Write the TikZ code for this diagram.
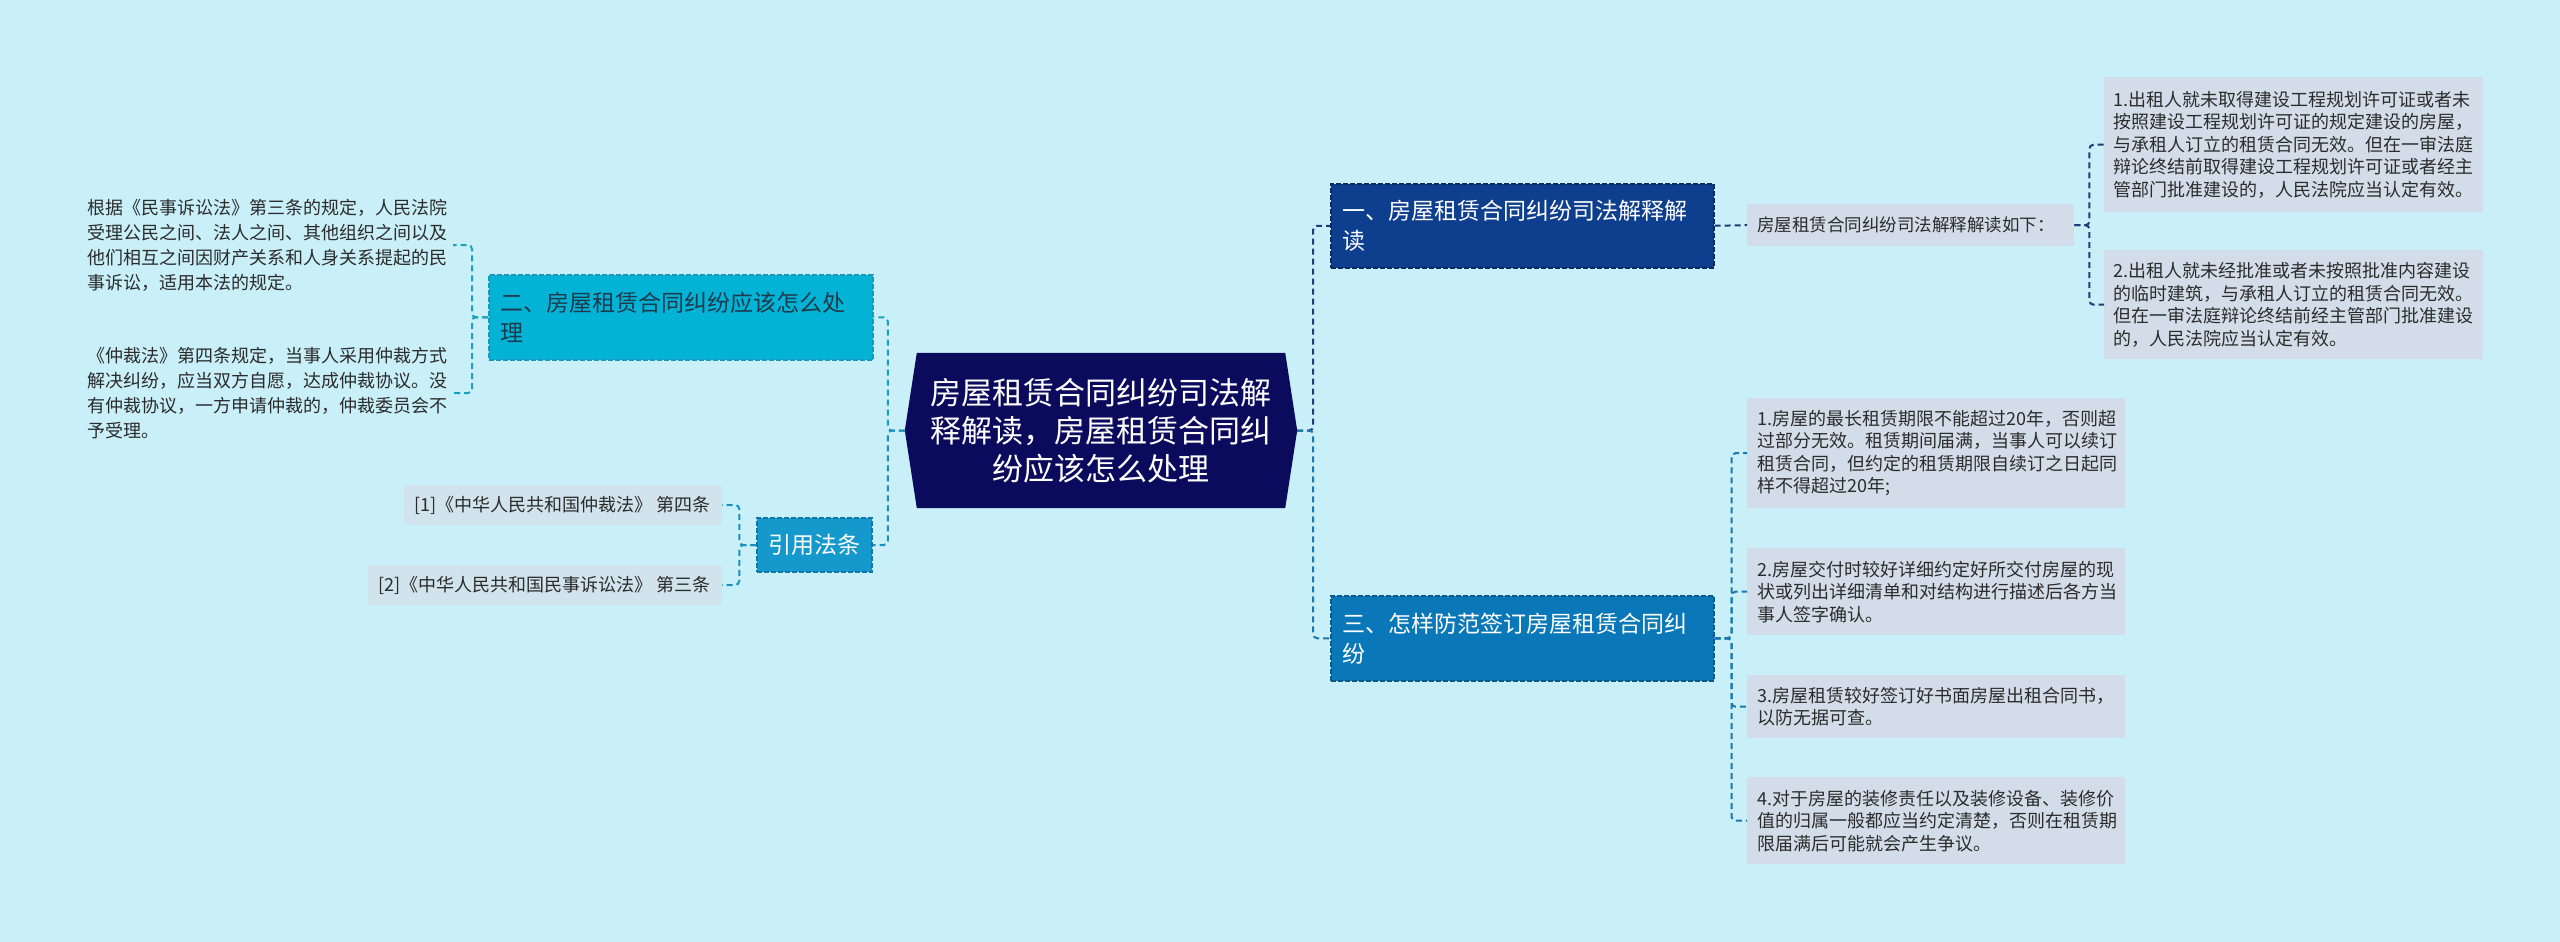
\documentclass[tikz,border=0pt]{standalone}
\usepackage{fontspec}
\setmainfont{Noto Sans CJK SC}
\usetikzlibrary{backgrounds}
\definecolor{bgc}{HTML}{C9EFF8}
\definecolor{cnavy}{HTML}{0B0B5E}
\definecolor{nonefill}{HTML}{0E3E8E}
\definecolor{noneline}{HTML}{0A2A62}
\definecolor{nthreefill}{HTML}{0A78B8}
\definecolor{nthreeline}{HTML}{0A5A8C}
\definecolor{ntwofill}{HTML}{03B3D6}
\definecolor{ntwoline}{HTML}{1A98BC}
\definecolor{nreffill}{HTML}{1599CC}
\definecolor{nrefline}{HTML}{0F78A8}
\definecolor{leafc}{HTML}{D3DDEA}
\definecolor{leafb}{HTML}{D1E3EC}
\definecolor{txt}{HTML}{2B2B2B}
\definecolor{ntwotxt}{HTML}{1E3A4C}
\definecolor{conna}{HTML}{1E3C78}
\definecolor{connb}{HTML}{1A78B0}
\definecolor{connc}{HTML}{1AA0BF}
\definecolor{connd}{HTML}{1A8FC0}
\tikzset{
  conn/.style={line width=2pt, dash pattern=on 6pt off 4pt, rounded corners=4pt},
  topic/.style={draw, line width=1.5pt, dash pattern=on 5pt off 2pt, inner xsep=12pt, inner ysep=0pt,
    align=left, font=\fontsize{23}{30}\selectfont, anchor=north west},
  leafbox/.style={fill=leafc, text=txt, inner xsep=9pt, inner ysep=0pt, align=left,
    font=\fontsize{18}{22.5}\selectfont, anchor=north west},
  leafplain/.style={text=txt, inner xsep=6pt, inner ysep=2pt, align=left, text width=360pt,
    font=\fontsize{18}{25}\selectfont},
  refbox/.style={fill=leafb, text=txt, inner xsep=11pt, inner ysep=0pt, minimum height=40pt,
    font=\fontsize{18}{22}\selectfont, anchor=east},
}
\begin{document}
\begin{tikzpicture}[x=1pt,y=-1pt]
\useasboundingbox (0,0) rectangle (2560,942);

% center
\node[text=white, align=center, minimum width=392pt, minimum height=155pt, inner sep=0pt,
  font=\fontsize{31}{38}\selectfont] (c) at (1101,430.5)
  {房屋租赁合同纠纷司法解\\释解读，房屋租赁合同纠\\纷应该怎么处理};

% main topics
\node[topic, fill=ntwofill, draw=ntwoline, text=ntwotxt, text width=360pt, minimum height=85pt] (n2) at (488,274)
  {二、房屋租赁合同纠纷应该怎么处\\理};
\node[fill=nreffill, draw=nrefline, line width=1.5pt, dash pattern=on 5pt off 2pt, text=white,
  minimum width=115pt, minimum height=54pt, inner sep=0pt, font=\fontsize{23}{28}\selectfont] (n3) at (814.5,545)
  {引用法条};
\node[topic, fill=nonefill, draw=noneline, text=white, text width=359pt, minimum height=84pt] (n1) at (1330,183)
  {一、房屋租赁合同纠纷司法解释解\\读};
\node[topic, fill=nthreefill, draw=nthreeline, text=white, text width=359pt, minimum height=85pt] (n4) at (1330,595)
  {三、怎样防范签订房屋租赁合同纠\\纷};

% left leaves
\node[leafplain] (l1) at (267,245)
  {根据《民事诉讼法》第三条的规定，人民法院\\受理公民之间、法人之间、其他组织之间以及\\他们相互之间因财产关系和人身关系提起的民\\事诉讼，适用本法的规定。};
\node[leafplain] (l2) at (267,393)
  {《仲裁法》第四条规定，当事人采用仲裁方式\\解决纠纷，应当双方自愿，达成仲裁协议。没\\有仲裁协议，一方申请仲裁的，仲裁委员会不\\予受理。};

\node[refbox] (r1) at (722,505) {[1]《中华人民共和国仲裁法》 第四条};
\node[refbox] (r2) at (722,585) {[2]《中华人民共和国民事诉讼法》 第三条};

% right top leaves
\node[leafbox, text width=307pt, minimum height=42pt, inner xsep=10pt, font=\fontsize{17.5}{22}\selectfont] (t0) at (1747,204)
  {房屋租赁合同纠纷司法解释解读如下：};
\node[leafbox, text width=361pt, minimum height=135pt] (t1) at (2104,77)
  {1.出租人就未取得建设工程规划许可证或者未\\按照建设工程规划许可证的规定建设的房屋，\\与承租人订立的租赁合同无效。但在一审法庭\\辩论终结前取得建设工程规划许可证或者经主\\管部门批准建设的，人民法院应当认定有效。};
\node[leafbox, text width=361pt, minimum height=109pt] (t2) at (2104,250)
  {2.出租人就未经批准或者未按照批准内容建设\\的临时建筑，与承租人订立的租赁合同无效。\\但在一审法庭辩论终结前经主管部门批准建设\\的，人民法院应当认定有效。};

% right bottom leaves
\node[leafbox, text width=358pt, inner xsep=10pt, minimum height=110pt] (b1) at (1747,398)
  {1.房屋的最长租赁期限不能超过20年，否则超\\过部分无效。租赁期间届满，当事人可以续订\\租赁合同，但约定的租赁期限自续订之日起同\\样不得超过20年;};
\node[leafbox, text width=358pt, inner xsep=10pt, minimum height=87pt] (b2) at (1747,548)
  {2.房屋交付时较好详细约定好所交付房屋的现\\状或列出详细清单和对结构进行描述后各方当\\事人签字确认。};
\node[leafbox, text width=358pt, inner xsep=10pt, minimum height=63pt] (b3) at (1747,675)
  {3.房屋租赁较好签订好书面房屋出租合同书，\\以防无据可查。};
\node[leafbox, text width=358pt, inner xsep=10pt, minimum height=87pt] (b4) at (1747,777)
  {4.对于房屋的装修责任以及装修设备、装修价\\值的归属一般都应当约定清楚，否则在租赁期\\限届满后可能就会产生争议。};

% connectors
\draw[conn, connc] (c.west) -- ++(-17,0) |- (n2.east);
\draw[conn, connd] (c.west) -- ++(-17,0) |- (n3.east);
\draw[conn, conna] (c.east) -- ++(16,0) |- (n1.west);
\draw[conn, connb] (c.east) -- ++(16,0) |- (n4.west);
\draw[conn, connc] (n2.west) -- ++(-16,0) |- (l1.east);
\draw[conn, connc] (n2.west) -- ++(-16,0) |- (l2.east);
\draw[conn, connd] (n3.west) -- ++(-17,0) |- (r1.east);
\draw[conn, connd] (n3.west) -- ++(-17,0) |- (r2.east);
\draw[conn, conna] (n1.east) -- (t0.west);
\draw[conn, conna] (t0.east) -- ++(15,0) |- (t1.west);
\draw[conn, conna] (t0.east) -- ++(15,0) |- (t2.west);
\draw[conn, connb] (n4.east) -- ++(17,0) |- (b1.west);
\draw[conn, connb] (n4.east) -- ++(17,0) |- (b2.west);
\draw[conn, connb] (n4.east) -- ++(17,0) |- (b3.west);
\draw[conn, connb] (n4.east) -- ++(17,0) |- (b4.west);

\begin{scope}[on background layer]
  \fill[bgc] (0,0) rectangle (2560,942);
  \fill[cnavy] (c.west) -- ([xshift=12pt]c.north west) -- ([xshift=-12pt]c.north east) -- (c.east)
    -- ([xshift=-12pt]c.south east) -- ([xshift=12pt]c.south west) -- cycle;
\end{scope}
\end{tikzpicture}
\end{document}
